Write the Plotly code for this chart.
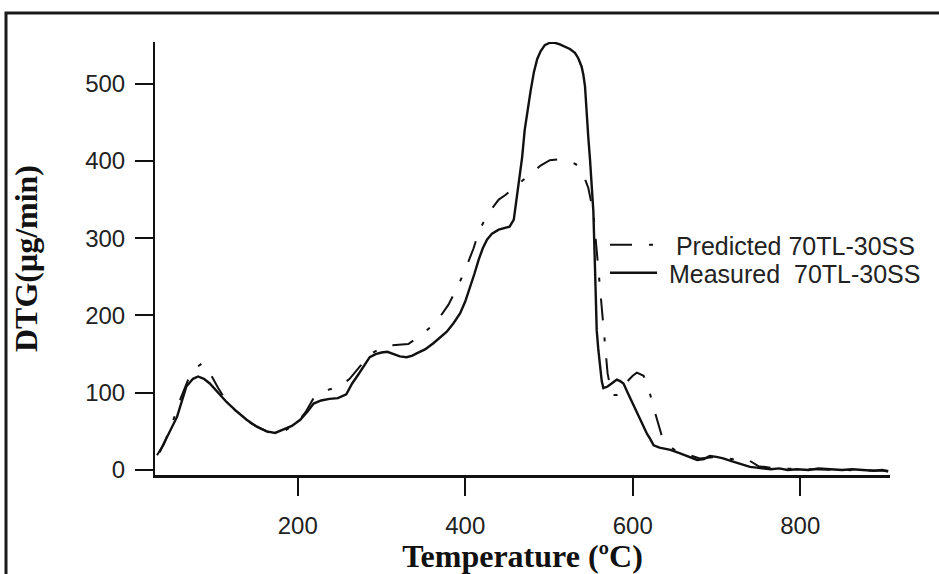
import plotly.graph_objects as go

# ---- data ----
meas_x = [35, 45, 56, 67, 75, 81, 88, 95, 105, 115, 127, 139, 151, 163, 173, 183, 193, 203, 212, 219,
          228, 238, 248, 258, 265, 272, 279, 286, 293, 300, 307, 315, 322, 330, 337, 342, 352, 362, 370, 378,
          386, 394, 400, 406, 411, 416, 421, 426, 432, 440, 447, 453, 458, 464, 468, 471, 475, 478, 482, 486,
          490, 495, 501, 507, 513, 519, 525, 531, 535, 539, 541, 543, 545, 547, 549, 551, 553, 555, 557, 559,
          561, 563, 565, 570, 576, 581, 585, 589, 594, 600, 605, 611, 617, 621, 625, 632, 640, 645, 655, 665,
          677, 685, 692, 700, 708, 716, 724, 732, 740, 748, 756, 765, 775, 785, 796, 810, 822, 836, 850, 862,
          875, 888, 898, 905]
meas_y = [23, 45, 69, 108, 118, 121, 118, 112, 100, 88, 76, 65, 56, 50, 48, 52, 57, 65, 76, 86,
          90, 92, 93, 98, 112, 123, 135, 146, 150, 152, 153, 150, 147, 146, 148, 151, 156, 164, 171, 179,
          190, 203, 218, 237, 254, 272, 287, 298, 306, 311, 313, 315, 324, 372, 405, 440, 470, 490, 515, 532,
          542, 550, 553, 553, 551, 548, 545, 540, 533, 522, 512, 497, 455, 430, 402, 370, 335, 260, 181, 155,
          130, 115, 106, 108, 113, 117, 115, 112, 100, 86, 73, 60, 47, 40, 32, 29, 27, 26, 22, 18,
          13, 14, 18, 17, 15, 12, 9, 6, 4, 3, 2, 1, 2, 0, 1, 0, 2, 1, 0, 1,
          0, -1, 0, -2]

pred_x = [32, 40, 50, 60, 70, 78, 86, 95, 105, 115, 130, 145, 165, 185, 200, 210, 219, 228, 237, 250,
          262, 275, 290, 306, 320, 332, 348, 366, 380, 390, 400, 410, 417, 428, 440, 448, 462, 480, 490, 501,
          512, 522, 532, 540, 547, 553, 560, 566, 570, 575, 581, 587, 593, 600, 605, 613, 620, 627, 635, 642,
          650, 660, 680, 700, 720, 735, 750, 770, 800, 850, 905]
pred_y = [19, 33, 60, 92, 119, 132, 138, 126, 106, 89, 72, 60, 49, 51, 62, 76, 93, 99, 104, 108,
          118, 135, 152, 161, 162, 163, 175, 192, 214, 235, 259, 287, 311, 333, 350, 356, 369, 385, 394, 401,
          402, 400, 396, 385, 365, 333, 250, 175, 125, 97, 97, 105, 114, 122, 126, 122, 101, 73, 43, 32,
          26, 22, 15, 17, 14, 15, 5, 2, 1, 0, -1]

x_ticks = [200, 400, 600, 800]
y_ticks = [0, 100, 200, 300, 400, 500]

W, H = 939, 574
L, R, T, B = 155, 49, 42, 99
pw, ph = W - L - R, H - T - B

def px2paper_x(px):
    return (px - L) / pw

def px2paper_y(py):
    return (H - B - py) / ph

fig = go.Figure()
fig.add_trace(go.Scatter(
    x=pred_x, y=pred_y, mode="lines", name="\u00a0\u00a0Predicted 70TL-30SS",
    line=dict(color="#111111", width=2, dash="22px,17px,4px,17px"),
    legend="legend", showlegend=True))
fig.add_trace(go.Scatter(
    x=meas_x, y=meas_y, mode="lines", name="\u00a0Measured\u00a0 70TL-30SS",
    line=dict(color="#111111", width=2.4),
    legend="legend2", showlegend=True))

tick_font = dict(family="Liberation Sans, Arial", size=24, color="#222222")
title_font = dict(family="Liberation Serif, Times New Roman", size=32, color="#111111", weight="bold")
leg_font = dict(family="Liberation Sans, Arial", size=25, color="#222222")

fig.update_layout(
    width=W, height=H, showlegend=True,
    margin=dict(l=L, r=R, t=T, b=B, pad=0, autoexpand=False),
    paper_bgcolor="white", plot_bgcolor="white",
    xaxis=dict(range=[29.6, 907.2], tickvals=x_ticks, ticks="outside", ticklen=18, tickwidth=2,
               tickcolor="#111111", showline=True, linewidth=3, linecolor="#111111",
               showgrid=False, zeroline=False, tickfont=tick_font, ticklabelstandoff=9,
               automargin=False,
               title=dict(text="Temperature (ºC)", font=title_font, standoff=12)),
    yaxis=dict(range=[-6.5, 554], tickvals=y_ticks, ticks="outside", ticklen=18, tickwidth=2,
               tickcolor="#111111", showline=True, linewidth=2, linecolor="#111111",
               showgrid=False, zeroline=False, tickfont=tick_font, ticklabelstandoff=5,
               automargin=False,
               title=dict(text="DTG(μg/min)", font=title_font, standoff=38)),
    legend=dict(x=px2paper_x(605), y=px2paper_y(245), xanchor="left", yanchor="middle",
                font=leg_font, itemwidth=47, bgcolor="rgba(0,0,0,0)", borderwidth=0, visible=True),
    legend2=dict(x=px2paper_x(605), y=px2paper_y(273), xanchor="left", yanchor="middle",
                 font=leg_font, itemwidth=47, bgcolor="rgba(0,0,0,0)", borderwidth=0, visible=True),
    shapes=[dict(type="rect", xref="paper", yref="paper",
                 x0=px2paper_x(6), x1=px2paper_x(1100), y0=px2paper_y(700), y1=px2paper_y(13),
                 line=dict(color="#1a1a1a", width=3), fillcolor="rgba(0,0,0,0)", layer="above")],
)

fig.write_html("out.html")
